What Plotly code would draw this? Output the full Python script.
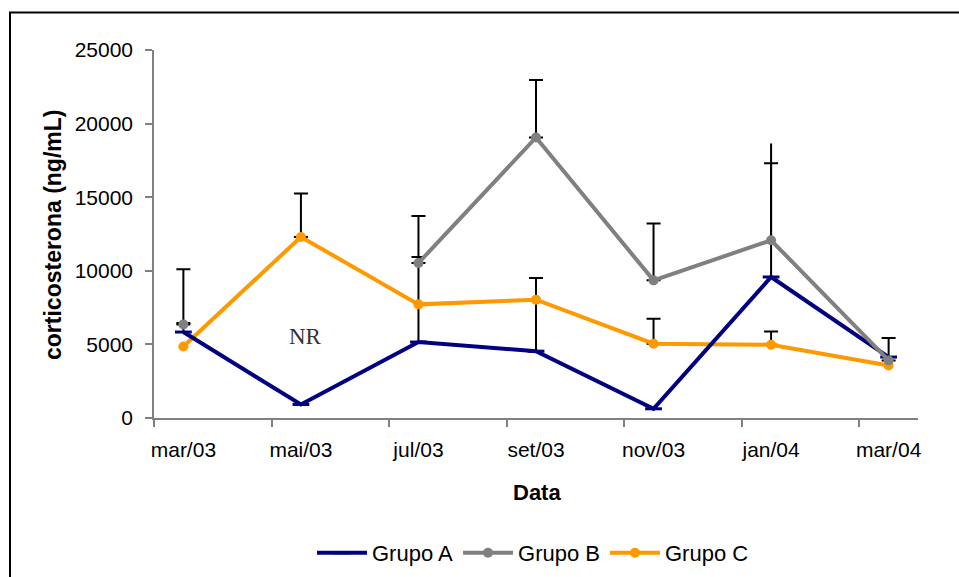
import plotly.graph_objects as go

# Sampling dates and group means of corticosterone (ng/mL)
months = ["mar/03", "mai/03", "jul/03", "set/03", "nov/03", "jan/04", "mar/04"]
grupo_a = [5840, 920, 5160, 4540, 625, 9580, 4140]
grupo_b = [6360, None, 10530, 19060, 9350, 12075, 3910]   # mai/03 not recorded (NR)
grupo_c = [4860, 12300, 7720, 8040, 5050, 4980, 3570]

# Upper error bars (None = no bar drawn)
err_a = [610, None, 5780, 4970, None, 7720, None]
err_b = [3740, None, 3200, 3900, 3860, None, 1520]
err_b_nocap = [None, None, None, None, None, 6575, None]
err_c = [None, 2950, None, None, 1700, 900, None]

y_ticks = [0, 5000, 10000, 15000, 20000, 25000]

x_idx = list(range(len(months)))

# plot-area pixel frame used for placing titles / border
L, R, T, B = 154, 918, 50, 418
W, H = 959, 577


def px(xpix):
    return (xpix - L) / (R - L)


def py(ypix):
    return (B - ypix) / (B - T)


FONT = "Liberation Sans, Arial, sans-serif"

fig = go.Figure()


def add_err(vals, errs, cap):
    xs = [i for i, e in zip(x_idx, errs) if e is not None and vals[i] is not None]
    ys = [vals[i] for i in xs]
    es = [errs[i] for i in xs]
    fig.add_trace(go.Scatter(
        x=xs, y=ys, mode="markers", marker=dict(size=0.1, opacity=0),
        showlegend=False, hoverinfo="skip",
        error_y=dict(type="data", array=es, arrayminus=[0] * len(es),
                     symmetric=False, color="black", thickness=2, width=cap),
    ))


# error bars go underneath the series lines
add_err(grupo_a, err_a, 7)
add_err(grupo_b, err_b, 7)
add_err(grupo_b, err_b_nocap, 0)
add_err(grupo_c, err_c, 7)

fig.add_trace(go.Scatter(
    x=x_idx, y=grupo_c, name="Grupo C", mode="lines+markers", legendrank=3,
    line=dict(color="#FF9900", width=4),
    marker=dict(color="#FF9900", size=10, symbol="circle"),
))
fig.add_trace(go.Scatter(
    x=x_idx, y=grupo_a, name="Grupo A", mode="lines+markers", legendrank=1,
    line=dict(color="#000080", width=4),
    marker=dict(symbol="line-ew", size=12, color="#000080",
                line=dict(color="#000080", width=3)),
))
fig.add_trace(go.Scatter(
    x=x_idx, y=grupo_b, name="Grupo B", mode="lines+markers", legendrank=2,
    line=dict(color="#808080", width=4),
    marker=dict(color="#808080", size=10, symbol="circle"),
))

fig.update_layout(
    width=W, height=H,
    margin=dict(l=L, r=W - R, t=T, b=H - B, autoexpand=False),
    paper_bgcolor="white", plot_bgcolor="white",
    font=dict(family=FONT, size=21, color="black"),
    showlegend=True,
    legend=dict(orientation="h", x=px(533), xanchor="center",
                y=py(553), yanchor="middle",
                font=dict(family=FONT, size=22, color="black"),
                bgcolor="rgba(0,0,0,0)", itemwidth=50, tracegroupgap=0),
    xaxis=dict(
        range=[-0.25, 6.25], tickmode="array", tickvals=x_idx, ticktext=months,
        ticks="", showgrid=False, zeroline=False,
        showline=True, linecolor="#808080", linewidth=1.5,
        ticklabelstandoff=12,
        tickfont=dict(family=FONT, size=21, color="black"),
        minor=dict(tickvals=[i - 0.25 for i in x_idx], ticks="outside",
                   ticklen=7, tickcolor="#808080", tickwidth=1.5, showgrid=False),
    ),
    yaxis=dict(
        range=[0, 25000], tickmode="array", tickvals=y_ticks,
        ticktext=[str(v) for v in y_ticks],
        ticks="outside", ticklen=7, tickcolor="#808080", tickwidth=1.5,
        showgrid=False, zeroline=False,
        showline=True, linecolor="#808080", linewidth=1.5,
        ticklabelstandoff=8,
        tickfont=dict(family=FONT, size=21, color="black"),
    ),
    annotations=[
        dict(text="<b>Data</b>", xref="paper", yref="paper", x=px(537), y=py(492),
             xanchor="center", yanchor="middle", showarrow=False,
             font=dict(family=FONT, size=22, color="black")),
        dict(text="<b>corticosterona (ng/mL)</b>", xref="paper", yref="paper",
             x=px(53), y=py(235), xanchor="center", yanchor="middle",
             textangle=-90, showarrow=False,
             font=dict(family=FONT, size=23, color="black")),
        dict(text="NR", xref="x", yref="y", x=1.04, y=5550,
             xanchor="center", yanchor="middle", showarrow=False,
             font=dict(family="Liberation Serif, Times New Roman, serif",
                       size=23, color="#333333")),
    ],
    shapes=[
        dict(type="rect", xref="paper", yref="paper",
             x0=px(10), y0=py(12.5), x1=px(1000), y1=py(620),
             line=dict(color="black", width=2), fillcolor="rgba(0,0,0,0)",
             layer="below"),
    ],
)

fig.write_html("out.html")
